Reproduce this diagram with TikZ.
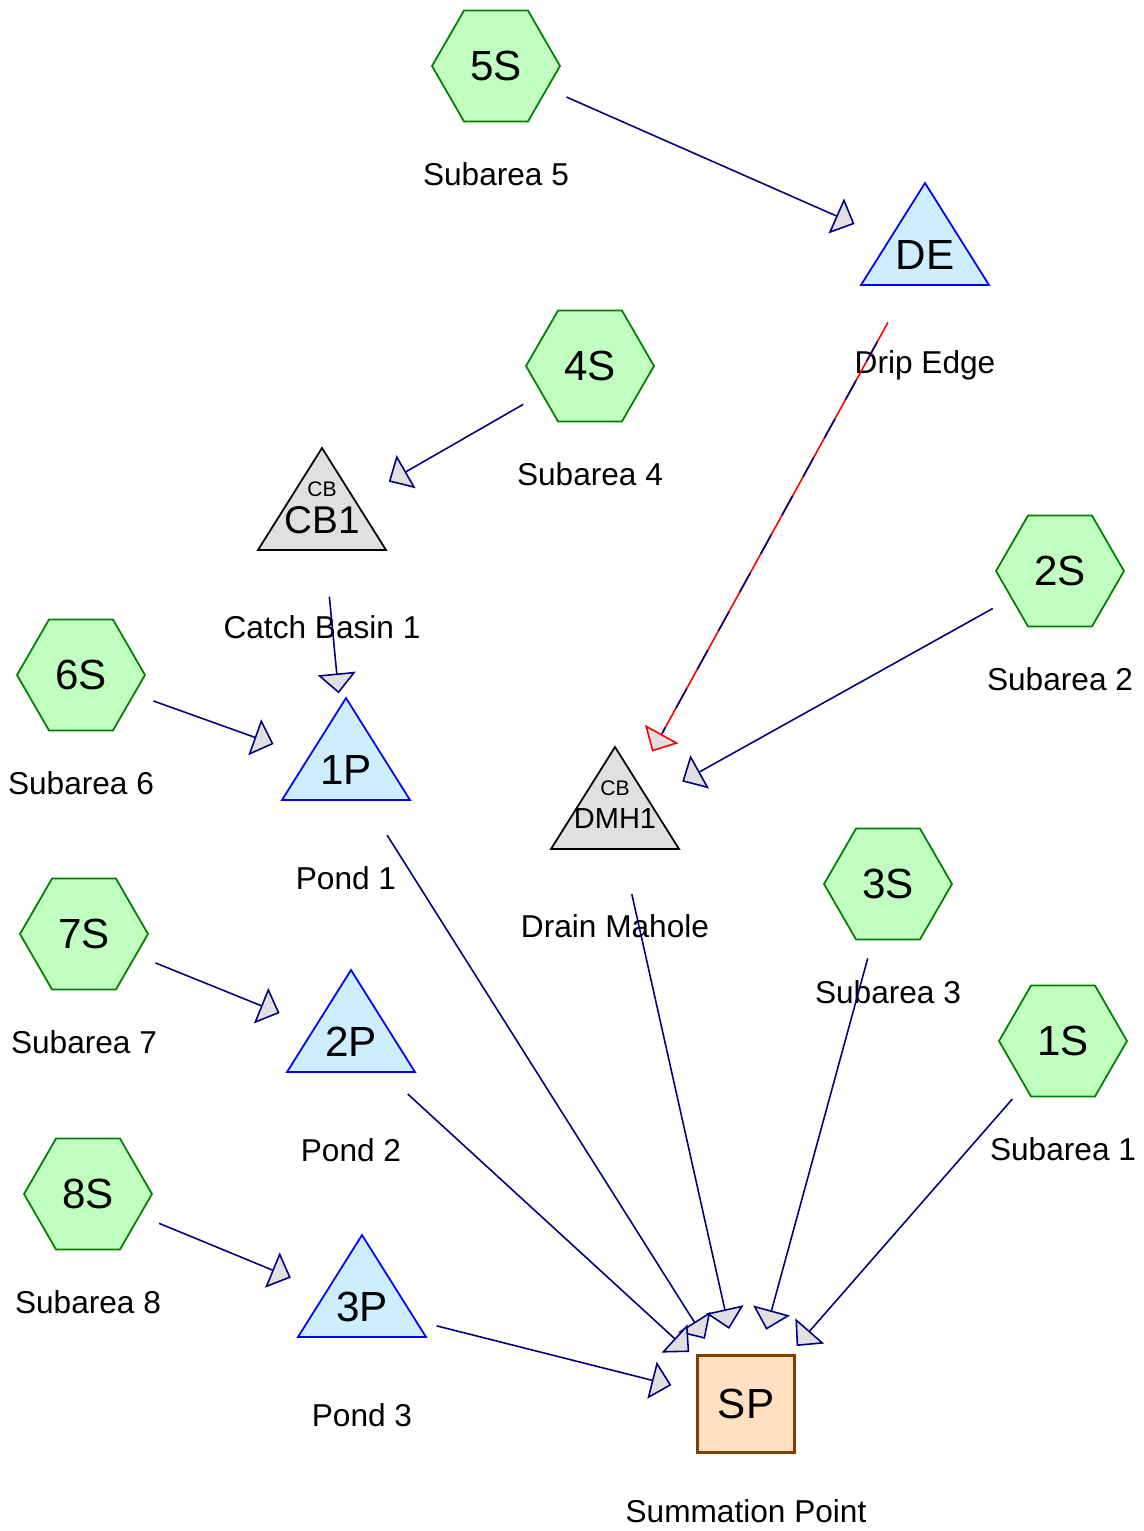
\documentclass[tikz,border=0pt]{standalone}
\usepackage{fontspec}
\setmainfont{Liberation Sans}
\usetikzlibrary{shapes.geometric, arrows.meta, calc, backgrounds}

\definecolor{subfill}{RGB}{192,255,192}
\definecolor{subdraw}{RGB}{0,128,0}
\definecolor{pondfill}{RGB}{204,238,255}
\definecolor{ponddraw}{RGB}{0,0,255}
\definecolor{cbfill}{RGB}{224,224,224}
\definecolor{spfill}{RGB}{255,224,192}
\definecolor{spdraw}{RGB}{128,64,0}
\definecolor{flowline}{RGB}{0,0,128}
\definecolor{tipfill}{RGB}{224,224,224}

\begin{document}
\begin{tikzpicture}[x=0.02cm, y=-0.02cm,
  subarea/.style={draw=subdraw, fill=subfill, line width=1pt, regular polygon,
    regular polygon sides=6, minimum size=2.56cm,
    inner sep=0pt, font=\fontsize{24}{28}\selectfont},
  reach/.style={inner sep=0pt, font=\fontsize{24}{28}\selectfont},
  pond/.style={draw=ponddraw, fill=pondfill, line width=1pt},
  basin/.style={draw=black, fill=cbfill, line width=1pt},
  tag/.style={inner sep=0pt, font=\fontsize{12}{14}\selectfont},
  sumbox/.style={draw=spdraw, fill=spfill, line width=1.2pt, minimum size=1.94cm,
    inner sep=0pt, font=\fontsize{24}{28}\selectfont},
  caption/.style={inner sep=0pt, text depth=0pt, font=\fontsize{18}{21}\selectfont},
  flow/.style={draw=flowline, line width=0.9pt,
    -{Triangle[length=4mm, width=7.6mm, fill=tipfill]},
    shorten <=1.54cm, shorten >=1.54cm}
]
  \useasboundingbox (0,0) rectangle (1143,1531);

  % Subareas
  \node[subarea] (S5) at (496,66) {5S};
  \node[subarea] (S4) at (590,366) {4S};
  \node[subarea] (S2) at (1060,571) {2S};
  \node[subarea] (S6) at (81,675) {6S};
  \node[subarea] (S3) at (888,884) {3S};
  \node[subarea] (S7) at (84,934) {7S};
  \node[subarea] (S1) at (1063,1041) {1S};
  \node[subarea] (S8) at (88,1194) {8S};

  % Ponds and catch basins (text only, triangles go behind)
  \node[reach] (DE) at (925,255) {DE};
  \node[reach] (P1) at (346,770) {1P};
  \node[reach] (P2) at (351,1042) {2P};
  \node[reach] (P3) at (362,1307) {3P};
  \node[reach, font=\fontsize{22}{26}\selectfont] (CB1) at (322,520) {CB1};
  \node[reach, font=\fontsize{16.5}{19}\selectfont] (DMH1) at (615,819) {DMH1};
  \node[tag] (CB1tag) at ($(CB1)+(0,-31)$) {CB};
  \node[tag] (DMH1tag) at ($(DMH1)+(0,-31)$) {CB};

  % Summation point
  \node[sumbox] (SP) at (746,1404) {SP};

  % Captions
  \node[caption] (S5cap) at ($(S5)+(0,108)$) {Subarea 5};
  \node[caption] (S4cap) at ($(S4)+(0,108)$) {Subarea 4};
  \node[caption] (S2cap) at ($(S2)+(0,108)$) {Subarea 2};
  \node[caption] (S6cap) at ($(S6)+(0,108)$) {Subarea 6};
  \node[caption] (S3cap) at ($(S3)+(0,108)$) {Subarea 3};
  \node[caption] (S7cap) at ($(S7)+(0,108)$) {Subarea 7};
  \node[caption] (S1cap) at ($(S1)+(0,108)$) {Subarea 1};
  \node[caption] (S8cap) at ($(S8)+(0,108)$) {Subarea 8};
  \node[caption] (DEcap) at ($(DE)+(0,107)$) {Drip Edge};
  \node[caption] (P1cap) at ($(P1)+(0,108)$) {Pond 1};
  \node[caption] (P2cap) at ($(P2)+(0,108)$) {Pond 2};
  \node[caption] (P3cap) at ($(P3)+(0,108)$) {Pond 3};
  \node[caption] (CB1cap) at ($(CB1)+(0,107)$) {Catch Basin 1};
  \node[caption] (DMH1cap) at ($(DMH1)+(0,107)$) {Drain Mahole};
  \node[caption] (SPcap) at ($(SP)+(0,107)$) {Summation Point};

  % Triangles behind the pond and basin names
  \begin{scope}[on background layer]
    \foreach \n in {DE, P1, P2, P3}
      \draw[pond] ($(\n)+(0,-72)$) -- ($(\n)+(64,30)$) -- ($(\n)+(-64,30)$) -- cycle;
    \foreach \n in {CB1, DMH1}
      \draw[basin] ($(\n)+(0,-72)$) -- ($(\n)+(64,30)$) -- ($(\n)+(-64,30)$) -- cycle;
  \end{scope}

  % Flows
  \draw[flow] (S5.center) -- (DE.center);
  \draw[flow] (S4.center) -- (CB1.center);
  \draw[flow] (CB1.center) -- (P1.center);
  \draw[flow] (S6.center) -- (P1.center);
  \draw[flow] (S7.center) -- (P2.center);
  \draw[flow] (S8.center) -- (P3.center);
  \draw[flow] (S2.center) -- (DMH1.center);
  \draw[flow, draw=red] (DE.center) -- (DMH1.center);
  \draw[draw=flowline, line width=0.9pt, dash pattern=on 0.44cm off 0.44cm,
    dash phase=0.44cm, shorten <=1.54cm, shorten >=1.96cm] (DE.center) -- (DMH1.center);
  \draw[flow] (P1.center) -- (SP.center);
  \draw[flow] (P2.center) -- (SP.center);
  \draw[flow] (P3.center) -- (SP.center);
  \draw[flow] (DMH1.center) -- (SP.center);
  \draw[flow] (S3.center) -- (SP.center);
  \draw[flow] (S1.center) -- (SP.center);

\end{tikzpicture}
\end{document}
